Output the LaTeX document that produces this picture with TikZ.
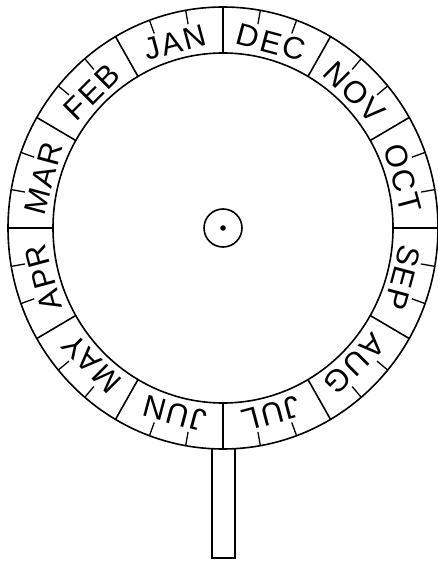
\documentclass[tikz,border=0pt]{standalone}
\usepackage{fontspec}
\setmainfont{Liberation Sans}
\usetikzlibrary{calc}

\begin{document}
\begin{tikzpicture}[x=1pt,y=1pt,line width=1.6pt,
  month/.style={font=\fontsize{31}{33}\selectfont\addfontfeature{LetterSpace=6},inner sep=0pt},
  daytick/.style={line width=1.3pt}]
\useasboundingbox (0,0) rectangle (438,-561);
% centre of the dial
\coordinate (c) at (223,-228);
% outer and inner ring
\draw (c) ellipse [x radius=215pt,y radius=221pt];
\draw (c) ellipse [x radius=170pt,y radius=175pt];
% month dividers and ten-day ticks
\foreach \a in {0,30,...,330}{
  \draw ($(c)+(\a:170pt and 175pt)$) -- ($(c)+(\a:215pt and 221pt)$);
  \foreach \t in {10,20}
    \draw[daytick] ($(c)+(\a+\t:201pt and 207pt)$) -- ($(c)+(\a+\t:215pt and 221pt)$);
}
% month labels
\foreach \m/\a in {JAN/105,FEB/135,MAR/165,APR/195,MAY/225,JUN/255,
                   JUL/285,AUG/315,SEP/345,OCT/15,NOV/45,DEC/75}
  \node[month,rotate=\a-90] (\m) at ($(c)+(\a:186pt and 192pt)$) {\m};
% hub
\draw (c) circle (19pt);
\fill (c) circle (2.8pt);
% handle
\coordinate (h1) at (212,-448);
\coordinate (h2) at (235,-448);
\draw (h1) -- (h1 |- 0,-558) -- (h2 |- 0,-558) -- (h2);
\end{tikzpicture}
\end{document}
